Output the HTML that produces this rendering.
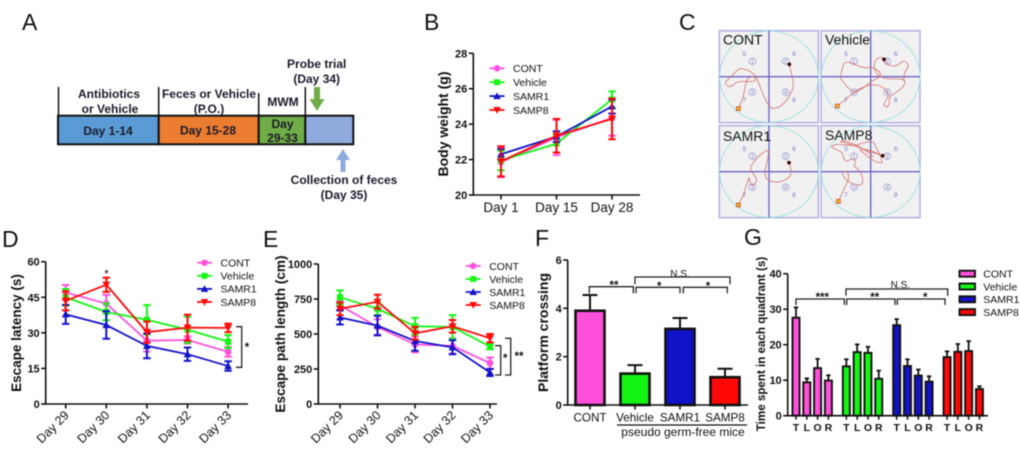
<!DOCTYPE html>
<html lang="en">
<head>
<meta charset="utf-8">
<title>Behavioral results figure</title>
<style>
html,body{margin:0;padding:0;background:#fff;width:1020px;height:453px;overflow:hidden}
#figure{display:block;filter:blur(0.4px)}
text{font-family:"Liberation Sans",sans-serif;fill:#111}
.pl{font-size:23px}
.a{font-size:12px;font-weight:bold;text-anchor:middle;fill:#1a1a2a}
</style>
</head>
<body>
<svg id="figure" xmlns="http://www.w3.org/2000/svg" width="1020" height="453" viewBox="0 0 1020 453">
  <g>
    <text class="pl" x="22" y="30">A</text>
    <text class="pl" x="424" y="30">B</text>
    <text class="pl" x="679" y="30">C</text>
    <text class="pl" x="2" y="247">D</text>
    <text class="pl" x="263" y="247">E</text>
    <text class="pl" x="535" y="246">F</text>
    <text class="pl" x="744" y="245">G</text>
  </g>
  <g>
    <rect x="58" y="115.7" width="100.7" height="28.6" fill="#5b9bd5" stroke="#111" stroke-width="2"/>
    <rect x="158.7" y="115.7" width="100" height="28.6" fill="#ed7d31" stroke="#111" stroke-width="2"/>
    <rect x="258.7" y="115.7" width="46.6" height="28.6" fill="#70ad47" stroke="#111" stroke-width="2"/>
    <rect x="305.3" y="115.7" width="48" height="28.6" fill="#8faadc" stroke="#111" stroke-width="2"/>
    <path d="M58.5 87V116M158.7 87V116M258.7 93V116M305.3 87V116" stroke="#111" stroke-width="1.5" fill="none"/>
    <text class="a" x="109" y="98">Antibiotics</text>
    <text class="a" x="110" y="113">or Vehicle</text>
    <text class="a" x="209" y="98">Feces or Vehicle</text>
    <text class="a" x="209" y="113">(P.O.)</text>
    <text class="a" x="283" y="106">MWM</text>
    <text class="a" x="108" y="135">Day 1-14</text>
    <text class="a" x="208" y="134.500">Day 15-28</text>
    <text class="a" x="282.500" y="128">Day</text>
    <text class="a" x="282.500" y="142">29-33</text>
    <text class="a" x="316.700" y="68">Probe trial</text>
    <text class="a" x="316.700" y="83">(Day 34)</text>
    <text class="a" x="344" y="184">Collection of feces</text>
    <text class="a" x="344" y="199">(Day 35)</text>
    <path d="M314 87h6v12h4.500l-7.500 12l-7.500-12h4.500z" fill="#70ad47"/>
    <path d="M340.500 172v-12h-4.500l7-11l7 11h-4.500v12z" fill="#8faadc"/>
  </g>
  <g id="mazes" transform="translate(700 10) scale(0.33333)"></g>
  <g id="chartB"></g>
  <g id="chartD"></g>
  <g id="chartE"></g>
  <g id="chartF"></g>
  <g id="chartG"></g>
</svg>
<script>
/* ---------- Panel B data ---------- */
const bCategories = ['Day 1', 'Day 15', 'Day 28'];
const bTicks = [20, 22, 24, 26, 28];
const bCont = [21.85, 23.25, 24.35];
const bContErr = [0.85, 1.0, 1.0];
const bVehicle = [21.95, 22.9, 25.4];
const bVehicleErr = [0.55, 0.5, 0.45];
const bSamr1 = [22.3, 23.3, 25.0];
const bSamr1Err = [0.3, 0.3, 0.4];
const bSamp8 = [21.9, 23.35, 24.3];
const bSamp8Err = [0.85, 0.95, 1.15];

/* ---------- Panel D data ---------- */
const dayCategories = ['Day 29', 'Day 30', 'Day 31', 'Day 32', 'Day 33'];
const dTicks = [0, 15, 30, 45, 60];
const dCont = [47, 42.3, 26.7, 27, 22];
const dContErr = [3.2, 3.7, 4.6, 1.5, 2];
const dVehicle = [45, 38.8, 35.5, 31.3, 26.3];
const dVehicleErr = [3.5, 3.5, 6.2, 5.5, 2.8];
const dSamr1 = [37.8, 33.3, 24.5, 21, 16];
const dSamr1Err = [4, 5.8, 5.2, 2.8, 2];
const dSamp8 = [43.5, 50.3, 30.3, 32.2, 32.1];
const dSamp8Err = [4, 3, 4.5, 5.5, 1.8];

/* ---------- Panel E data ---------- */
const eTicks = [0, 250, 500, 750, 1000];
const eCont = [705, 550, 425, 415, 292];
const eContErr = [30, 55, 55, 55, 40];
const eVehicle = [762, 680, 555, 550, 410];
const eVehicleErr = [50, 45, 60, 85, 20];
const eSamr1 = [618, 560, 450, 405, 225];
const eSamr1Err = [50, 70, 70, 50, 25];
const eSamp8 = [680, 730, 505, 555, 470];
const eSamp8Err = [45, 50, 45, 45, 30];

/* ---------- Panel F data ---------- */
const fCategories = ['CONT', 'Vehicle', 'SAMR1', 'SAMP8'];
const fTicks = [0, 2, 4, 6];
const fValues = [3.9, 1.3, 3.15, 1.15];
const fErrors = [0.65, 0.35, 0.45, 0.35];

/* ---------- Panel G data ---------- */
const gQuadrants = ['T', 'L', 'O', 'R'];
const gTicks = [0, 10, 20, 30, 40];
const gCont = [27.6, 9.4, 13.4, 9.9];
const gContErr = [2.9, 1.1, 2.6, 1.5];
const gVehicle = [13.9, 17.9, 17.7, 10.4];
const gVehicleErr = [2, 2.2, 1.7, 2.3];
const gSamr1 = [25.5, 14, 11.3, 9.6];
const gSamr1Err = [1.7, 1.9, 1.7, 1.5];
const gSamp8 = [16.5, 18, 18.2, 7.5];
const gSamp8Err = [1.6, 2.2, 2.8, 0.8];

const seriesLabels = ['CONT', 'Vehicle', 'SAMR1', 'SAMP8'];
const seriesColors = ['#ff50dc', '#14f514', '#1212c8', '#ff0808'];
const seriesMarkers = ['circle', 'square', 'up', 'down'];

const NS = 'http://www.w3.org/2000/svg';
function mk(tag, attrs, parent) {
  const e = document.createElementNS(NS, tag);
  for (const k in attrs) e.setAttribute(k, attrs[k]);
  parent.appendChild(e);
  return e;
}
function label(parent, x, y, str, size, opts) {
  const o = opts || {};
  const t = mk('text', { x: x, y: y, 'font-size': size }, parent);
  if (o.bold) t.setAttribute('font-weight', 'bold');
  if (o.anchor) t.setAttribute('text-anchor', o.anchor);
  if (o.rot !== undefined) t.setAttribute('transform', 'rotate(' + o.rot + ' ' + x + ' ' + y + ')');
  t.textContent = str;
  return t;
}
function marker(parent, kind, x, y, color, s) {
  let m;
  if (kind === 'circle') m = mk('circle', { cx: x, cy: y, r: s * 0.6, fill: color }, parent);
  else if (kind === 'square') m = mk('rect', { x: x - s * 0.55, y: y - s * 0.55, width: s * 1.1, height: s * 1.1, fill: color }, parent);
  else if (kind === 'up') m = mk('path', { d: 'M' + x + ' ' + (y - s * 0.7) + 'l' + (s * 0.7) + ' ' + (s * 1.25) + 'h' + (-s * 1.4) + 'z', fill: color }, parent);
  else m = mk('path', { d: 'M' + x + ' ' + (y + s * 0.7) + 'l' + (s * 0.7) + ' ' + (-s * 1.25) + 'h' + (-s * 1.4) + 'z', fill: color }, parent);
  return m;
}
function yAxis(g, c, scaleY, ticks) {
  const ax = mk('path', { d: 'M' + c.x0 + ' ' + scaleY(ticks[0]) + 'V' + scaleY(ticks[ticks.length - 1]), stroke: '#111', 'stroke-width': 1.6, fill: 'none' }, g);
  
  
  ticks.forEach(function (v) {
    const tk = mk('path', { d: 'M' + (c.x0 - 4.5) + ' ' + scaleY(v) + 'H' + c.x0, stroke: '#111', 'stroke-width': 1.6 }, g);
    
    
    const tl = label(g, c.x0 - 6, scaleY(v) + 4, String(v), 11, { bold: true, anchor: 'end' });
    
    
  });
}
function xAxisLine(g, c, y) {
  const ax = mk('path', { d: 'M' + (c.x0 - 0.8) + ' ' + y + 'H' + c.xEnd, stroke: '#111', 'stroke-width': 1.6, fill: 'none' }, g);
  
  
}
function yTitle(g, x, y, str, size) {
  const t = label(g, x, y, str, size, { bold: true, anchor: 'middle', rot: -90 });
  
  
}

function lineChart(g, c, cats, ticks, vals, errs) {
  const lo = ticks[0], hi = ticks[ticks.length - 1];
  const scaleY = function (v) { return c.yBase + (v - lo) / (hi - lo) * (c.yTop - c.yBase); };
  const scaleX = function (i) { return c.xFirst + i * c.xStep; };
  yAxis(g, c, scaleY, ticks);
  xAxisLine(g, c, c.yBase);
  cats.forEach(function (name, i) {
    const tk = mk('path', { d: 'M' + scaleX(i) + ' ' + c.yBase + 'v4.500', stroke: '#111', 'stroke-width': 1.6 }, g);
    
    
    const tl = c.rotate
      ? label(g, scaleX(i) + 4, c.yBase + 12, name, 12.5, { anchor: 'end', rot: -45 })
      : label(g, scaleX(i), c.yBase + 17, name, 13.5, { anchor: 'middle' });
    
    
  });
  vals.forEach(function (arr, s) {
    const col = seriesColors[s];
    const sg = mk('g', {}, g);
    
    
    arr.forEach(function (v, i) {
      const x = scaleX(i), top = scaleY(v + errs[s][i]), bot = scaleY(v - errs[s][i]);
      const eb = mk('path', { d: 'M' + x + ' ' + top + 'V' + bot + 'M' + (x - 3.7) + ' ' + top + 'h7.400M' + (x - 3.7) + ' ' + bot + 'h7.400', stroke: col, 'stroke-width': 2, fill: 'none' }, sg);
      
      
    });
    const pts = arr.map(function (v, i) { return scaleX(i) + ',' + scaleY(v); }).join(' ');
    const ln = mk('polyline', { points: pts, fill: 'none', stroke: col, 'stroke-width': 1.8 }, sg);
    
    
    arr.forEach(function (v, i) {
      const m = marker(sg, seriesMarkers[s], scaleX(i), scaleY(v), col, 5.6);
      
      
    });
  });
  const lg = mk('g', {}, g);
  
  
  seriesLabels.forEach(function (name, s) {
    const y = c.legY + s * c.legStep;
    const ll = mk('path', { d: 'M' + c.legX + ' ' + y + 'h15', stroke: seriesColors[s], 'stroke-width': 1.8 }, lg);
    
    
    const lm = marker(lg, seriesMarkers[s], c.legX + 7.5, y, seriesColors[s], 5.4);
    
    
    const lt = label(lg, c.legX + 23.5, y + 3.8, name, 10.5);
    
    
  });
}

function bracket(g, x1, x2, top, drop, str, tx, ty) {
  const b = mk('path', { d: 'M' + x1 + ' ' + (top + drop) + 'V' + top + 'H' + x2 + 'V' + (top + drop), fill: 'none', stroke: '#222', 'stroke-width': 1.3 }, g);
  
  
  const t = str === 'N.S.'
    ? label(g, tx, ty, str, 10, { anchor: 'middle' })
    : label(g, tx, ty + 3, str, 11.5, { anchor: 'middle', bold: true });
  
  
}
function sideBracket(g, x1, x2, y1, y2) {
  const b = mk('path', { d: 'M' + x1 + ' ' + y1 + 'H' + x2 + 'V' + y2 + 'H' + x1, fill: 'none', stroke: '#222', 'stroke-width': 1.3 }, g);
  
  
}

/* Panel B */
const gB = document.getElementById('chartB');
lineChart(gB, { x0: 473.3, xEnd: 640, yBase: 195, yTop: 53.3, xFirst: 501, xStep: 55.5, legX: 489.5, legY: 68.3, legStep: 13.9 },
  bCategories, bTicks, [bCont, bVehicle, bSamr1, bSamp8], [bContErr, bVehicleErr, bSamr1Err, bSamp8Err]);
yTitle(gB, 448, 124, 'Body weight (g)', 14);

/* Panel D */
const gD = document.getElementById('chartD');
lineChart(gD, { x0: 45.7, xEnd: 248, yBase: 404, yTop: 261.7, xFirst: 65.7, xStep: 40.6, rotate: true, legX: 197, legY: 262.7, legStep: 13.1 },
  dayCategories, dTicks, [dCont, dVehicle, dSamr1, dSamp8], [dContErr, dVehicleErr, dSamr1Err, dSamp8Err]);
yTitle(gD, 21, 333, 'Escape latency (s)', 13.5);
sideBracket(gD, 236, 241.7, 326.7, 367.3);
const starD = label(gD, 247, 351, '*', 11.5, { anchor: 'middle', bold: true });


const starD30 = label(gD, 106.500, 278, '*', 11.5, { anchor: 'middle' });



/* Panel E */
const gE = document.getElementById('chartE');
lineChart(gE, { x0: 318.3, xEnd: 497, yBase: 404, yTop: 264, xFirst: 340, xStep: 37.5, rotate: true, legX: 465.7, legY: 266, legStep: 13 },
  dayCategories, eTicks, [eCont, eVehicle, eSamr1, eSamp8], [eContErr, eVehicleErr, eSamr1Err, eSamp8Err]);
yTitle(gE, 285, 334, 'Escape path length (cm)', 13.6);
sideBracket(gE, 495, 500.7, 345.7, 375);
sideBracket(gE, 505, 510.7, 338.3, 375);
const starE1 = label(gE, 505.200, 362, '*', 11.5, { anchor: 'middle', bold: true });


const starE2 = label(gE, 519, 360, '**', 11.5, { anchor: 'middle', bold: true });



/* Panel F */
const gF = document.getElementById('chartF');
(function () {
  const c = { x0: 567.7, xEnd: 748, yBase: 405, yTop: 260, xFirst: 590, xStep: 45, barW: 29 };
  const scaleY = function (v) { return c.yBase + v / fTicks[fTicks.length - 1] * (c.yTop - c.yBase); };
  const scaleX = function (i) { return c.xFirst + i * c.xStep; };
  fValues.forEach(function (v, i) {
    const x = scaleX(i), top = scaleY(v), e = scaleY(v + fErrors[i]);
    const eb = mk('path', { d: 'M' + x + ' ' + top + 'V' + e + 'M' + (x - 7.5) + ' ' + e + 'h15', stroke: '#111', 'stroke-width': 2, fill: 'none' }, gF);
    
    
    const r = mk('rect', { x: x - c.barW / 2, y: top, width: c.barW, height: c.yBase - top, fill: seriesColors[i], stroke: '#111', 'stroke-width': 2.6 }, gF);
    
    
    const tk = mk('path', { d: 'M' + x + ' ' + c.yBase + 'v4.500', stroke: '#111', 'stroke-width': 1.6 }, gF);
    
    
    const tl = label(gF, x, 421.7, fCategories[i], 11.7, { anchor: 'middle' });
    
    
  });
  yAxis(gF, c, scaleY, fTicks);
  xAxisLine(gF, c, c.yBase);
  const ul = mk('path', { d: 'M617 425H747', stroke: '#111', 'stroke-width': 1.3 }, gF);
  
  
  const gl = label(gF, 683, 436, 'pseudo germ-free mice', 12, { anchor: 'middle' });
  
  
  yTitle(gF, 548, 332.5, 'Platform crossing', 14);
  bracket(gF, 589.3, 633.3, 286.7, 6.7, '**', 614, 286);
  bracket(gF, 635, 730, 277, 7.3, 'N.S.', 680, 277);
  bracket(gF, 636, 680, 287.3, 6, '*', 659.3, 287);
  bracket(gF, 683.3, 727.3, 287.3, 6, '*', 708, 287);
})();

/* Panel G */
const gG = document.getElementById('chartG');
(function () {
  const c = { x0: 787.7, xEnd: 988, yBase: 415.7, yTop: 273.7, xFirst: 796, groupStep: 50.35, step: 10.8, barW: 7 };
  const groups = [gCont, gVehicle, gSamr1, gSamp8];
  const groupErrs = [gContErr, gVehicleErr, gSamr1Err, gSamp8Err];
  const scaleY = function (v) { return c.yBase + v / gTicks[gTicks.length - 1] * (c.yTop - c.yBase); };
  const scaleX = function (gi, i) { return c.xFirst + gi * c.groupStep + i * c.step; };
  groups.forEach(function (arr, gi) {
    const bg = mk('g', {}, gG);
    
    
    arr.forEach(function (v, i) {
      const x = scaleX(gi, i), top = scaleY(v), e = scaleY(v + groupErrs[gi][i]);
      const eb = mk('path', { d: 'M' + x + ' ' + top + 'V' + e + 'M' + (x - 2.2) + ' ' + e + 'h4.400', stroke: '#111', 'stroke-width': 1.8, fill: 'none' }, bg);
      
      
      const r = mk('rect', { x: x - c.barW / 2, y: top, width: c.barW, height: c.yBase - top, fill: seriesColors[gi], stroke: '#111', 'stroke-width': 1.9 }, bg);
      
      
      const tk = mk('path', { d: 'M' + x + ' ' + c.yBase + 'v4', stroke: '#111', 'stroke-width': 1.5 }, bg);
      
      
      const tl = label(bg, x, 431, gQuadrants[i], 10.5, { bold: true, anchor: 'middle' });
      
      
    });
  });
  yAxis(gG, c, scaleY, gTicks);
  xAxisLine(gG, c, c.yBase);
  yTitle(gG, 765, 344, 'Time spent in each quadrant (s)', 11.6);
  bracket(gG, 796, 844.3, 299, 6, '***', 822.3, 298);
  bracket(gG, 846, 947.7, 289, 6.7, 'N.S.', 900.3, 288);
  bracket(gG, 846.7, 895, 299, 6, '**', 874.7, 298);
  bracket(gG, 897.3, 945, 299, 6, '*', 925.3, 298);
  seriesLabels.forEach(function (name, s) {
    const y = 273.7 + s * 12.8;
    const sw = mk('rect', { x: 959.5, y: y - 3, width: 15.5, height: 6, fill: seriesColors[s], stroke: '#111', 'stroke-width': 1.9 }, gG);
    
    
    const lt = label(gG, 983.3, y + 3.8, name, 10.5);
    
    
  });
})();

/* Panel C: swim paths drawn in 3x zoom space */
const mazes = document.getElementById('mazes');
const mazeTitles = ['CONT', 'Vehicle', 'SAMR1', 'SAMP8'];
const mazeOffsets = [[0, 0], [305, 0], [0, 285], [305, 285]];
const mazeTitleY = [93, 93, 98, 95];
const mazeEnds = [[268, 163], [552, 148], [267, 458], [548, 437]];
const mazeStarts = [[115, 296], [412, 288], [115, 585], [415, 574]];
const mazePaths = [
  'M115,296 L128,265 C135,240 135,225 140,212 C150,195 172,198 165,212 C150,220 120,205 100,225 C85,235 70,225 80,212 C90,205 105,185 118,176 C140,175 165,190 170,205 C180,225 195,280 215,295 C250,300 280,245 280,225 C278,195 270,180 268,163',
  'M412,288 L462,247 C490,240 510,215 530,205 C560,195 525,170 505,172 C480,180 440,140 430,165 C425,185 420,195 422,205 C435,225 450,240 462,247 C500,220 540,215 560,245 C575,260 550,275 552,285 C560,300 570,285 568,270 C565,250 612,245 615,215 C610,195 550,220 530,190 C510,160 535,130 552,148 C560,170 590,175 605,155 C625,150 630,170 615,185 C610,200 615,210 610,212',
  'M115,585 L130,555 L147,502 C150,520 155,535 165,520 C180,500 150,495 152,470 C170,440 195,420 205,422 C210,450 180,495 205,510 C230,525 270,510 273,490 C275,475 268,465 267,458',
  'M415,574 L445,510 C450,480 430,480 428,490 C425,500 450,525 480,525 C495,520 490,490 465,470 C455,460 470,470 465,450 C445,440 440,470 430,440 C430,420 400,420 395,410 C410,395 440,410 470,405 C500,395 525,390 525,405 C530,420 550,445 545,458 C520,460 495,430 480,420 C500,410 550,440 548,437 C520,430 440,395 420,395 C440,385 500,420 520,440'
];
const mazeCircled = [[157, 154, '1'], [257, 154, '2'], [157, 247, '3'], [257, 247, '4']];
const mazeSmall = [[133, 131, '5'], [282, 131, '6'], [133, 269, '7'], [282, 269, '8']];
mazeTitles.forEach(function (title, k) {
  const dx = mazeOffsets[k][0], dy = mazeOffsets[k][1];
  const p = mk('g', {}, mazes);
  
  
  const bg = mk('rect', { x: 58 + dx, y: 62 + dy, width: 297, height: 276, fill: '#f1f1f1', stroke: '#aca6de', 'stroke-width': 4 }, p);
  
  
  const pool = mk('ellipse', { cx: 207 + dx, cy: 200 + dy, rx: 148, ry: 137, fill: 'none', stroke: '#a6e2e2', 'stroke-width': 3 }, p);
  
  
  const cross = mk('path', { d: 'M' + (207 + dx) + ' ' + (62 + dy) + 'v276M' + (58 + dx) + ' ' + (200 + dy) + 'h297', stroke: '#6a62c8', 'stroke-width': 4, fill: 'none' }, p);
  
  
  mazeCircled.forEach(function (q) {
    const ring = mk('circle', { cx: q[0] + dx, cy: q[1] + dy, r: 10, fill: 'none', stroke: '#8f8fd0', 'stroke-width': 2 }, p);
    
    
    const n = label(p, q[0] + dx, q[1] + dy + 6, q[2], 16, { anchor: 'middle' });
    n.setAttribute('style', 'fill:#7a7ac8');
    
    
  });
  mazeSmall.forEach(function (q) {
    const n = label(p, q[0] + dx, q[1] + dy + 7, q[2], 20, { anchor: 'middle' });
    n.setAttribute('style', 'fill:#7a7ac8');
    
    
  });
  const path = mk('path', { d: mazePaths[k], fill: 'none', stroke: '#d4706e', 'stroke-width': 2.4 }, p);
  
  
  const st = mk('rect', { x: mazeStarts[k][0] - 6, y: mazeStarts[k][1] - 6, width: 12, height: 12, fill: '#f0b020', stroke: '#d04030', 'stroke-width': 2 }, p);
  
  
  const en = mk('circle', { cx: mazeEnds[k][0], cy: mazeEnds[k][1], r: 5.5, fill: '#300' }, p);
  
  
  const tt = label(p, (k % 2 ? 375 : 69), mazeTitleY[k] + dy + 10, title, 42);
  
  
});
</script>
</body>
</html>
